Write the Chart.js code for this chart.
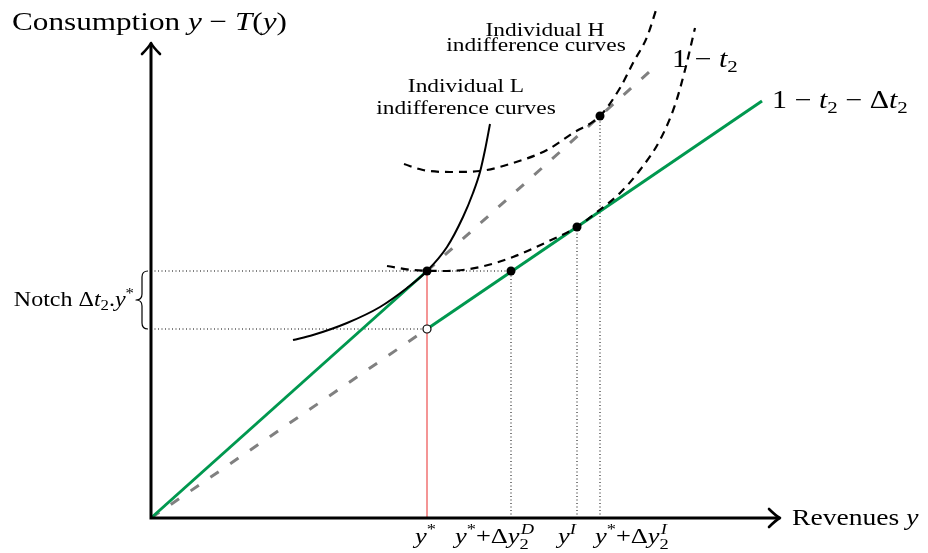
<!DOCTYPE html>
<html>
<head>
<meta charset="utf-8">
<script src="https://cdn.jsdelivr.net/npm/chart.js@4.4.0/dist/chart.umd.min.js"></script>
<style>html,body{margin:0;padding:0;background:#fff}canvas{display:block}</style>
</head>
<body>
<canvas id="notchChart" width="928" height="553"></canvas>
<script>
'use strict';
// Tax notch diagram: consumption vs revenues, L and H indifference curves
var tickValues = [276, 360, 426, 449];
var kink = [276, 247];
var notchLow = [276, 189];
var filledDots = [[276, 247], [360, 247], [426, 291], [449, 402]];
var openDots = [[276, 189]];
var greenBefore = [[0, 0], [276, 247]];
var greenAfter = [[276, 189], [611, 417]];
var grayUpper = [[276, 247], [506, 453]];
var grayLower = [[0, 0], [276, 189]];
var curveL = [[142, 178], [162, 183], [196, 195], [229, 211], [256, 230], [276, 247], [296, 271], [312, 301], [322, 325], [329, 346], [334, 368], [339, 394]];
var curveH1 = [[253, 354], [272, 348], [299, 346], [329, 347], [362, 355], [396, 368], [422, 385], [449, 402], [469, 430], [482, 455], [496, 481], [506, 511]];
var curveH2 = [[236, 252], [262, 248], [296, 247], [329, 251], [362, 261], [396, 276], [426, 291], [446, 306], [469, 325], [489, 348], [509, 378], [524, 413], [534, 448], [544, 490]];
var axisEnds = [629, 475];

var tickLabels = [
    [['y', 'i'], ['*', '^']],
    [['y', 'i'], ['*', '^'], ['+Δ', 'r'], ['y', 'i'], [['2', 'D'], 'ss']],
    [['y', 'i'], ['I', '^i']],
    [['y', 'i'], ['*', '^'], ['+Δ', 'r'], ['y', 'i'], [['2', 'I'], 'ss']]
];
var tickShift = [-12, -56, -19, -5];
var yTitle = [['Consumption ', 'r'], ['y', 'i'], [' − ', 'r'], ['T', 'i'], ['(', 'r'], ['y', 'i'], [')', 'r']];
var xTitle = [['Revenues ', 'r'], ['y', 'i']];
var rateOld = [['1 − ', 'r'], ['t', 'i'], ['2', '_']];
var rateNew = [['1 − ', 'r'], ['t', 'i'], ['2', '_'], [' − Δ', 'r'], ['t', 'i'], ['2', '_']];
var notchText = [['Notch Δ', 'r'], ['t', 'i'], ['2', '_'], ['.', 'r'], ['y', 'i'], ['*', '^']];

(function () {
    var SX = 1.2, FAM = '"Liberation Serif", "Times New Roman", serif';
    function fnt(s, it)
    {
        return (it ? 'italic ' : '') + s + 'px ' + FAM; }
    function pts(a)
    {
        return a.map(function (p) {
            return {x:p[0], y:p[1]}; }); }
    function line(a, col, w, dash, ord, smooth)
    {
        return {
            data:pts(a), showLine:true, borderColor:col, borderWidth:w, borderDash:dash || [],
            pointRadius:0, fill:false, clip:false, order:ord,
            tension:smooth ? 0.4 : 0, cubicInterpolationMode:smooth ? 'monotone' : 'default'
        }; }
    // mini math text: runs of roman / italic / scripts
    function math(c, parts, size, draw)
    {
        var cx = 0, sm = size * 0.7;
        parts.forEach(function (p) {
            var t = p[0], k = p[1];
            if (k === 'ss') {
                c.font = fnt(sm, false); var w1 = c.measureText(t[0]).width;
                c.font = fnt(sm, true); var w2 = c.measureText(t[1]).width;
                if (draw) {
                    c.font = fnt(sm, false); c.fillText(t[0], cx, size * 0.25);
                    c.font = fnt(sm, true); c.fillText(t[1], cx + 1, -size * 0.42); }
                cx += Math.max(w1, w2 + 1); return; }
            var s = (k === '^' || k === '_' || k === '^i') ? sm : size;
            var dy = (k === '^' || k === '^i') ? -size * 0.4 : (k === '_' ? size * 0.2 : 0);
            c.font = fnt(s, k === 'i' || k === '^i');
            if (draw) {
                c.fillText(t, cx, dy); }
            cx += c.measureText(t).width;
        });
        return cx; }
    function text(c, parts, x, y, size, align)
    {
        c.save(); c.textBaseline = 'alphabetic'; c.textAlign = 'left'; c.fillStyle = '#000';
        var w = math(c, parts, size, false) * SX;
        var left = align === 'center' ? x - w / 2 : (align === 'right' ? x - w : x);
        c.translate(left, y); c.scale(SX, 1);
        math(c, parts, size, true);
        c.restore(); }
    var decor = {
        id:'decor',
        afterDatasetsDraw:function (chart) {
            var c = chart.ctx, xs = chart.scales.x, ys = chart.scales.y;
            var x0 = xs.getPixelForValue(0), y0 = ys.getPixelForValue(0);
            var xe = xs.getPixelForValue(axisEnds[0]), ye = ys.getPixelForValue(axisEnds[1]);
            c.save(); c.strokeStyle = '#000'; c.lineWidth = 3;
            c.beginPath(); c.moveTo(x0, y0 + 1.5); c.lineTo(x0, ye + 1);
            c.moveTo(x0 - 1.5, y0); c.lineTo(xe - 1, y0); c.stroke();
            c.lineWidth = 2.6; c.lineCap = 'round'; c.lineJoin = 'round';
            c.beginPath(); c.moveTo(x0 - 9, ye + 11); c.quadraticCurveTo(x0 - 2, ye + 4, x0, ye);
            c.quadraticCurveTo(x0 + 2, ye + 4, x0 + 9, ye + 11); c.stroke();
            c.beginPath(); c.moveTo(xe - 11, y0 - 9); c.quadraticCurveTo(xe - 4, y0 - 2, xe, y0);
            c.quadraticCurveTo(xe - 4, y0 + 2, xe - 11, y0 + 9); c.stroke();
            // brace for the notch
            var yt = ys.getPixelForValue(kink[1]), yb = ys.getPixelForValue(notchLow[1]), ym = (yt + yb) / 2;
            var xr = x0 - 3, xm = x0 - 9, xl = x0 - 15, r = 6;
            c.lineWidth = 1.2; c.lineCap = 'butt';
            c.beginPath(); c.moveTo(xr, yt); c.quadraticCurveTo(xm, yt, xm, yt + r); c.lineTo(xm, ym - r);
            c.quadraticCurveTo(xm, ym, xl, ym); c.quadraticCurveTo(xm, ym, xm, ym + r);
            c.lineTo(xm, yb - r); c.quadraticCurveTo(xm, yb, xr, yb); c.stroke();
            c.restore();
            text(c, notchText, xl - 2, ym + 6, 20, 'right');
            text(c, yTitle, 12, 30, 26, 'left');
            text(c, xTitle, xe + 12, y0 + 7, 23, 'left');
            var g = grayUpper[1], n = greenAfter[1];
            text(c, rateOld, xs.getPixelForValue(g[0]) + 15, ys.getPixelForValue(g[1]) + 2, 25, 'left');
            text(c, rateNew, xs.getPixelForValue(n[0]) + 10, ys.getPixelForValue(n[1]) + 7, 25, 'left');
            text(c, [['Individual H', 'r']], 545, 36, 19.5, 'center');
            text(c, [['indifference curves', 'r']], 536, 51, 19.5, 'center');
            text(c, [['Individual L', 'r']], 466, 92, 19.5, 'center');
            text(c, [['indifference curves', 'r']], 466, 114, 19.5, 'center');
            tickValues.forEach(function (v, i) {
                text(c, tickLabels[i], xs.getPixelForValue(v) + tickShift[i], y0 + 25, 22, 'left'); });
        }
    };
    function build()
    {
        var dot = '#000', dotted = [1, 2.5];
        var guides = [
            line([[0, kink[1]], [filledDots[1][0], kink[1]]], dot, 1, dotted, 10),
            line([[0, notchLow[1]], notchLow], dot, 1, dotted, 10),
            line([[kink[0], 0], kink], '#f07272', 1.5, [], 9)
        ];
        filledDots.slice(1).forEach(function (p) {
            guides.push(line([[p[0], 0], p], dot, 1, dotted, 10)); });
        var sets = guides.concat([
            line(grayLower, '#808080', 3, [10, 14], 8),
            line(grayUpper, '#808080', 3, [10, 14], 8),
            line(greenBefore, '#00984f', 3, [], 7),
            line(greenAfter, '#00984f', 3, [], 7),
            line(curveL, '#000', 2, [], 6, true),
            line(curveH1, '#000', 2.2, [8, 6], 6, true),
            line(curveH2, '#000', 2.2, [8, 6], 6, true),
            {data:pts(filledDots), showLine:false, pointRadius:4.5, pointBackgroundColor:'#000', pointBorderColor:'#000', pointBorderWidth:0, clip:false, order:1},
            {data:pts(openDots), showLine:false, pointRadius:4, pointBackgroundColor:'#fff', pointBorderColor:'#000', pointBorderWidth:1.2, clip:false, order:1}
        ]);
        new Chart(document.getElementById('notchChart').getContext('2d'), {
            type:'scatter',
            data:{ datasets:sets },
            options:{
                responsive:false,
                animation:false,
                layout:{ padding:0, autoPadding:false },
                scales:{
                    x:{ type:'linear', min:-151, max:777, display:false },
                    y:{ type:'linear', min:-35, max:518, display:false }
                },
                plugins:{ legend:{ display:false }, tooltip:{ enabled:false } }
            },
            plugins:[decor]
        });
    }
    if (window.Chart) {
        build(); } else {
        window.addEventListener('load', build); }
})();
</script>
</body>
</html>
